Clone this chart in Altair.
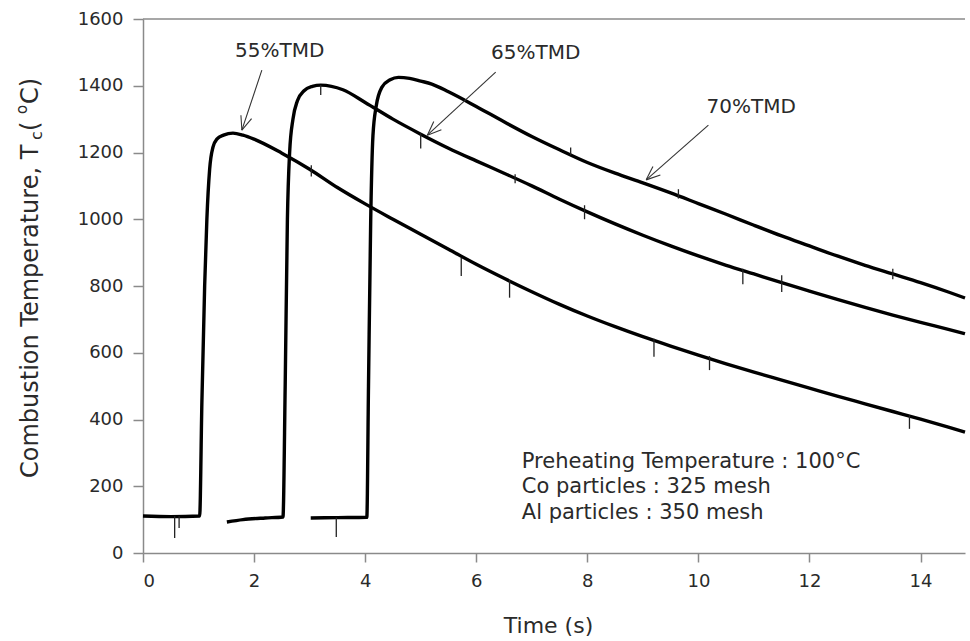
import altair as alt
import pandas as pd
import numpy as np

# ---------------- data ----------------
t55 = [0.0, 0.5, 1.02, 1.06, 1.11, 1.15, 1.2, 1.26, 1.33, 1.45, 1.62, 1.8, 2.0, 2.5, 3.0, 3.5,
       4.0, 4.5, 5.0, 5.5, 6.0, 6.5, 7.0, 7.5, 8.0, 8.5, 9.0, 9.5, 10.0, 10.5, 11.0, 11.5,
       12.0, 12.5, 13.0, 13.5, 14.0, 14.5, 14.8]
T55 = [111, 109, 111, 450, 800, 1000, 1150, 1216, 1240, 1252, 1258, 1252, 1240, 1198, 1150, 1095,
       1046, 1000, 955, 910, 865, 823, 783, 745, 710, 678, 648, 620, 593, 567, 542, 518,
       494, 470, 447, 424, 401, 377, 362]

t65 = [1.51, 1.8, 2.2, 2.52, 2.56, 2.6, 2.64, 2.7, 2.78, 2.9, 3.05, 3.2, 3.6, 4.0, 4.5, 5.0,
       5.5, 6.0, 6.5, 7.0, 7.5, 8.0, 8.5, 9.0, 9.5, 10.0, 10.5, 11.0, 11.5, 12.0, 12.5,
       13.0, 13.5, 14.0, 14.5, 14.8]
T65 = [93, 100, 105, 108, 500, 1000, 1200, 1300, 1355, 1385, 1398, 1402, 1388, 1350, 1300, 1255,
       1213, 1175, 1138, 1100, 1060, 1022, 986, 952, 920, 890, 862, 836, 810, 785, 760,
       736, 713, 691, 670, 657]

t70 = [3.02, 3.5, 4.03, 4.06, 4.1, 4.14, 4.2, 4.3, 4.45, 4.6, 4.8, 5.0, 5.2, 5.5, 6.0, 6.5,
       7.0, 7.5, 8.0, 8.5, 9.0, 9.5, 10.0, 10.5, 11.0, 11.5, 12.0, 12.5, 13.0, 13.5, 14.0,
       14.5, 14.8]
T70 = [105, 106, 107, 500, 1000, 1250, 1340, 1395, 1418, 1425, 1422, 1414, 1405, 1382, 1338, 1292,
       1248, 1208, 1170, 1138, 1109, 1079, 1047, 1015, 982, 950, 920, 890, 862, 836, 810,
       782, 764]

# small vertical spikes visible on the traces: time, upper, lower
spike_t = [0.57, 0.65, 3.48, 3.03, 5.73, 6.6, 9.2, 10.2, 13.8, 3.2, 5.0, 6.7, 7.95, 10.8, 11.5,
           7.7, 9.64, 13.5]
spike_hi = [110, 110, 106, 1162, 885, 818, 642, 590, 412, 1402, 1258, 1135, 1042, 852, 832,
            1215, 1090, 852]
spike_lo = [45, 75, 48, 1128, 830, 765, 588, 548, 372, 1372, 1212, 1108, 1000, 805, 782,
            1192, 1062, 820]

x_ticks = [0, 2, 4, 6, 8, 10, 12, 14]
y_ticks = [0, 200, 400, 600, 800, 1000, 1200, 1400, 1600]

labels = ["55%TMD", "65%TMD", "70%TMD"]
label_x = [2.46, 7.07, 10.95]
label_y = [1504, 1498, 1336]
arrow_x0 = [2.14, 6.35, 10.18]
arrow_y0 = [1447, 1441, 1282]
arrow_x1 = [1.78, 5.12, 9.06]
arrow_y1 = [1267, 1252, 1118]

note_lines = ["Preheating Temperature : 100°C", "Co particles : 325 mesh", "Al particles : 350 mesh"]
note_x = [6.82, 6.82, 6.82]
note_y = [273, 198, 120]

# ---------------- layout ----------------
W, H = 822, 534
XMAX, YMAX = 14.8, 1600
FONT = "DejaVu Sans"
GREY = "#8a8a8a"
TXT = "#2a2a2a"

rows = []
for name, ts, Ts in [("55", t55, T55), ("65", t65, T65), ("70", t70, T70)]:
    for a, b in zip(ts, Ts):
        rows.append({"series": name, "t": a, "T": b})
df = pd.DataFrame(rows)

xs = alt.Scale(domain=[0, XMAX], nice=False, zero=False)
ys = alt.Scale(domain=[0, YMAX], nice=False)

lines = alt.Chart(df).mark_line(color="black", strokeWidth=3.4, strokeJoin="round",
                                interpolate="monotone").encode(
    x=alt.X("t:Q", scale=xs, axis=alt.Axis(
        values=x_ticks, format="d", title="Time (s)", grid=False, tickSize=9, labelPadding=10,
        titleY=72, titleX=405, titleBaseline="middle", titleAlign="center",
        titleFontSize=22, titleFont=FONT, titleFontWeight="normal", titleColor=TXT)),
    y=alt.Y("T:Q", scale=ys, axis=alt.Axis(
        values=y_ticks, format="d", title=None, grid=False, tickSize=10, labelPadding=10)),
    detail="series:N",
)

spk = pd.DataFrame({"t": spike_t, "hi": spike_hi, "lo": spike_lo})
spikes = alt.Chart(spk).mark_rule(color="#222", strokeWidth=1.3).encode(
    x=alt.X("t:Q", scale=xs), y=alt.Y("hi:Q", scale=ys), y2="lo:Q")

top_border = alt.Chart(pd.DataFrame({"a": [0]})).mark_rule(color=GREY, strokeWidth=1.5).encode(
    x=alt.datum(0, scale=xs), x2=alt.datum(XMAX), y=alt.datum(YMAX, scale=ys))

# arrows with open V heads
pxx = W / XMAX
pxy = H / YMAX
seg = []
for x0, y0, x1, y1 in zip(arrow_x0, arrow_y0, arrow_x1, arrow_y1):
    seg.append({"x": x0, "y": y0, "x2": x1, "y2": y1})
    vx = (x0 - x1) * pxx
    vy = (y0 - y1) * pxy
    n = np.hypot(vx, vy)
    vx, vy = vx / n, vy / n
    for ang in (np.radians(22), -np.radians(22)):
        wx = vx * np.cos(ang) - vy * np.sin(ang)
        wy = vx * np.sin(ang) + vy * np.cos(ang)
        seg.append({"x": x1, "y": y1, "x2": x1 + wx * 15 / pxx, "y2": y1 + wy * 15 / pxy})
arrows = alt.Chart(pd.DataFrame(seg)).mark_rule(color="#333", strokeWidth=1.1).encode(
    x=alt.X("x:Q", scale=xs), y=alt.Y("y:Q", scale=ys), x2="x2:Q", y2="y2:Q")

lab = alt.Chart(pd.DataFrame({"label": labels, "x": label_x, "y": label_y})).mark_text(
    font=FONT, fontSize=20, color=TXT, align="center", baseline="middle").encode(
    x=alt.X("x:Q", scale=xs), y=alt.Y("y:Q", scale=ys), text="label:N")

notes = alt.Chart(pd.DataFrame({"label": note_lines, "x": note_x, "y": note_y})).mark_text(
    font=FONT, fontSize=21, color=TXT, align="left", baseline="middle").encode(
    x=alt.X("x:Q", scale=xs), y=alt.Y("y:Q", scale=ys), text="label:N")

# y-axis title built from pieces (subscript c, superscript o)
YT_X, YT_Y = 31 - 143, 478 - 19
F = 24
w_main = 14.08 * F
pieces = [
    ("Combustion Temperature, T", F, 0, 0),
    ("c", 16, w_main, 6),
    (" (", F, w_main + 9, 0),
    ("o", 15, w_main + 9 + 0.708 * F, -9),
    ("C)", F, w_main + 9 + 0.708 * F + 10, 0),
]
ytitle = []
for txt, fs, dx, dy in pieces:
    ytitle.append(alt.Chart(pd.DataFrame({"s": [txt]})).mark_text(
        font=FONT, fontSize=fs, color=TXT, angle=270, align="left", baseline="middle",
        dx=dx, dy=dy).encode(x=alt.value(YT_X), y=alt.value(YT_Y), text="s:N"))

chart = alt.layer(top_border, lines, spikes, arrows, lab, notes, *ytitle).properties(
    width=W, height=H, autosize="none",
    padding={"left": 143, "top": 19, "right": 5, "bottom": 88},
    background="white",
).configure_view(stroke=None).configure_axis(
    domainColor=GREY, domainWidth=1.5, tickColor=GREY, tickWidth=1.5,
    labelFont=FONT, labelFontSize=18, labelColor=TXT,
)

chart.save("out.html", embed_options={"renderer": "svg", "actions": False})
